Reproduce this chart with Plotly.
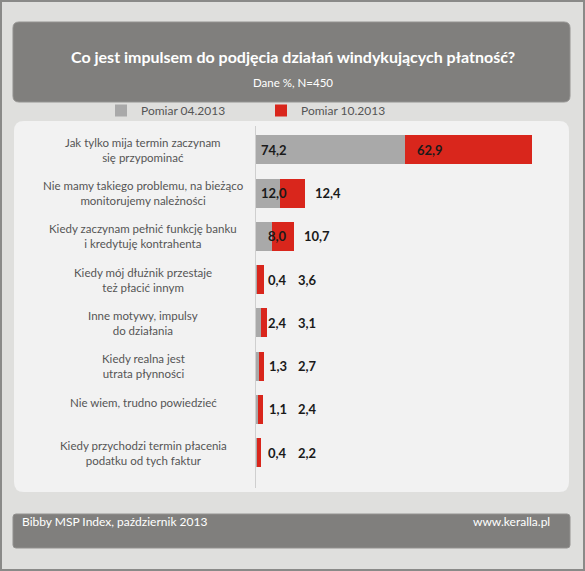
import plotly.graph_objects as go

W, H = 585, 571

categories = [
    "Jak tylko mija termin zaczynam<br>się przypominać",
    "Nie mamy takiego problemu, na bieżąco<br>monitorujemy należności",
    "Kiedy zaczynam pełnić funkcję banku<br>i kredytuję kontrahenta",
    "Kiedy mój dłużnik przestaje<br>też płacić innym",
    "Inne motywy, impulsy<br>do działania",
    "Kiedy realna jest<br>utrata płynności",
    "Nie wiem, trudno powiedzieć",
    "Kiedy przychodzi termin płacenia<br>podatku od tych faktur",
]
pomiar_04 = [74.2, 12.0, 8.0, 0.4, 2.4, 1.3, 1.1, 0.4]
pomiar_10 = [62.9, 12.4, 10.7, 3.6, 3.1, 2.7, 2.4, 2.2]

GRAY = "#a9a9a9"
RED = "#d9261c"
BANNER = "#807f7d"
FONT = "Lato"


def px(x):
    return x / W


def py(y):
    return 1 - y / H


def rrect(x0, y0, x1, y1, r):
    pts = [
        ("M", [(x0 + r, y0)]),
        ("L", [(x1 - r, y0)]),
        ("Q", [(x1, y0), (x1, y0 + r)]),
        ("L", [(x1, y1 - r)]),
        ("Q", [(x1, y1), (x1 - r, y1)]),
        ("L", [(x0 + r, y1)]),
        ("Q", [(x0, y1), (x0, y1 - r)]),
        ("L", [(x0, y0 + r)]),
        ("Q", [(x0, y0), (x0 + r, y0)]),
    ]
    s = ""
    for cmd, ps in pts:
        s += cmd + " " + " ".join(f"{px(a):.5f},{py(b):.5f}" for a, b in ps) + " "
    return s + "Z"


fig = go.Figure()
fig.add_trace(go.Bar(y=categories, x=pomiar_04, orientation="h", name="Pomiar 04.2013",
                     marker=dict(color=GRAY, line=dict(width=0))))
fig.add_trace(go.Bar(y=categories, x=pomiar_10, orientation="h", name="Pomiar 10.2013",
                     marker=dict(color=RED, line=dict(width=0))))

shapes = [
    dict(type="rect", xref="paper", yref="paper", x0=px(1), y0=py(1), x1=px(584), y1=py(570),
         fillcolor="#dfdfdd", line=dict(color="#8a8a88", width=2), layer="below"),
    dict(type="path", xref="paper", yref="paper", path=rrect(13, 22, 570, 102, 6),
         fillcolor=BANNER, line=dict(color="#939290", width=1), layer="below"),
    dict(type="path", xref="paper", yref="paper", path=rrect(14, 121, 569, 492, 10),
         fillcolor="#f2f2f2", line=dict(width=0), layer="below"),
    dict(type="path", xref="paper", yref="paper", path=rrect(13, 514, 570, 548, 3),
         fillcolor=BANNER, line=dict(color="#939290", width=1), layer="below"),
]

annotations = [
    dict(text="<b>Co jest impulsem do podjęcia działań windykujących płatność?</b>",
         x=0.5, y=py(45), xref="paper", yref="paper", showarrow=False,
         font=dict(size=16, color="white", family=FONT)),
    dict(text="Dane %, N=450", x=0.5, y=py(74), xref="paper", yref="paper", showarrow=False,
         font=dict(size=11.5, color="white", family=FONT)),
    dict(text="Bibby MSP Index, październik 2013", x=px(20), y=py(531), xref="paper", yref="paper",
         xanchor="left", showarrow=False, font=dict(size=12, color="white", family=FONT)),
    dict(text="www.keralla.pl", x=px(552), y=py(531), xref="paper", yref="paper",
         xanchor="right", showarrow=False, font=dict(size=12, color="white", family=FONT)),
]

for cat, a, b in zip(categories, pomiar_04, pomiar_10):
    # single-line labels sit on the upper line in the original
    annotations.append(dict(text=cat, x=px(143), y=cat, xref="paper", yref="y", showarrow=False,
                            xanchor="center", align="center",
                            yshift=0 if "<br>" in cat else 7,
                            font=dict(size=11.5, color="#555555", family=FONT)))
    lab_font = dict(size=13, color="#1a1a1a", family=FONT)
    annotations.append(dict(text="<b>" + f"{a:.1f}".replace(".", ",") + "</b>", x=0, y=cat,
                            xref="x", yref="y", xanchor="right", xshift=33, showarrow=False,
                            font=lab_font))
    if a >= 20:
        bx, shift = a, 10
    else:
        bx, shift = max(a + b + 4, 20), 0
    annotations.append(dict(text="<b>" + f"{b:.1f}".replace(".", ",") + "</b>", x=bx, y=cat,
                            xref="x", yref="y", xanchor="left", xshift=shift, showarrow=False,
                            font=lab_font))

fig.update_layout(
    width=W, height=H,
    margin=dict(l=0, r=0, t=0, b=0),
    paper_bgcolor="#dfdfdd",
    plot_bgcolor="rgba(0,0,0,0)",
    barmode="stack",
    bargap=0.33,
    font=dict(family=FONT, color="#555555"),
    xaxis=dict(domain=[px(256), px(556)], range=[0, 149], visible=False, fixedrange=True),
    yaxis=dict(domain=[py(488), py(126)], range=[7.82, -0.55], showticklabels=False,
               showgrid=False, zeroline=False, showline=True, linecolor="#cfcfcf", linewidth=1,
               ticks=""),
    legend=dict(orientation="h", x=px(101), y=py(96), xanchor="left", yanchor="top",
                entrywidth=115, font=dict(size=12, color="#555555", family=FONT),
                bgcolor="rgba(0,0,0,0)", traceorder="normal"),
    shapes=shapes,
    annotations=annotations,
)

fig.write_html("out.html", config={"displayModeBar": False},
               post_script="document.body.style.margin='0';")
